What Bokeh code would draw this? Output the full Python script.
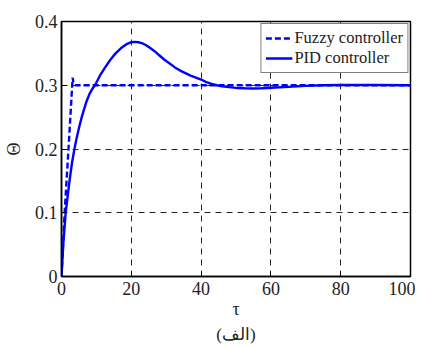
from bokeh.plotting import figure
from bokeh.models import FixedTicker, Range1d, Legend, LegendItem, Title
from bokeh.embed import file_html
from bokeh.resources import INLINE

# ---- data ----
fuzzy_t = [0, 0.9, 2.0, 2.8, 3.2, 3.5, 4.0, 100]
fuzzy_y = [0, 0.10, 0.20, 0.275, 0.312, 0.302, 0.300, 0.300]

pid_t = [0, 0.5, 1.2, 2.3, 3.0, 3.7, 4.3, 5.0, 5.8, 6.5, 7.2, 8.0, 8.8, 9.6, 11,
         12.5, 14, 15.5, 17, 18.5, 20, 21, 22, 23, 24, 25, 26, 27, 28, 29.5,
         31, 32.5, 34, 35.5, 37, 38.5, 40, 41.5, 43, 44.5, 46, 48, 50, 52.5,
         55, 57.5, 60, 65, 70, 75, 80, 90, 100]
pid_y = [0, 0.05, 0.10, 0.15, 0.178, 0.200, 0.216, 0.233, 0.250, 0.263, 0.275,
         0.286, 0.294, 0.300, 0.315, 0.328, 0.340, 0.350, 0.358, 0.364, 0.3675,
         0.368, 0.3675, 0.366, 0.3635, 0.360, 0.356, 0.352, 0.347, 0.340,
         0.334, 0.328, 0.323, 0.319, 0.315, 0.312, 0.309, 0.305, 0.302, 0.300,
         0.2985, 0.297, 0.2958, 0.2952, 0.295, 0.2953, 0.296, 0.2975, 0.299,
         0.300, 0.3005, 0.3005, 0.300]

x_ticks = [0, 20, 40, 60, 80, 100]
y_ticks = [0, 0.1, 0.2, 0.3, 0.4]
y_tick_labels = ["0", "0.1", "0.2", "0.3", "0.4"]

series_names = ["Fuzzy controller", "PID controller"]
x_label = "τ"
y_label = "Θ"
caption = "(الف)"

FONT = "Liberation Serif"
BLUE = "#0000ff"

p = figure(width=415, height=346, output_backend="svg", toolbar_location=None,
           x_range=Range1d(0, 100), y_range=Range1d(0, 0.4),
           min_border_left=61, min_border_right=5, min_border_top=21,
           min_border_bottom=70)
p.background_fill_color = "white"
p.border_fill_color = "white"
p.outline_line_color = "black"
p.outline_line_width = 1.5

r1 = p.line(fuzzy_t, fuzzy_y, line_color=BLUE, line_width=2.4, line_dash="6 3")
r2 = p.line(pid_t, pid_y, line_color=BLUE, line_width=2.4, line_join="round")

# axes
for ax in (p.xaxis[0], p.yaxis[0]):
    ax.major_tick_in = 5
    ax.major_tick_out = 0
    ax.minor_tick_in = 0
    ax.minor_tick_out = 0
    ax.axis_line_color = "black"
    ax.axis_line_width = 1.5
    ax.major_tick_line_color = "black"
    ax.major_label_text_font = FONT
    ax.major_label_text_font_size = "18px"
    ax.major_label_text_color = "#222222"
    ax.axis_label_text_font = FONT
    ax.axis_label_text_font_size = "18px"
    ax.axis_label_text_font_style = "normal"
    ax.axis_label_text_color = "#222222"

p.xaxis[0].ticker = FixedTicker(ticks=x_ticks)
p.yaxis[0].ticker = FixedTicker(ticks=y_ticks)
p.yaxis[0].major_label_overrides = {t: s for t, s in zip(y_ticks, y_tick_labels)}
p.xaxis[0].major_label_standoff = 5
p.yaxis[0].major_label_standoff = 4
p.xaxis[0].axis_label = x_label
p.xaxis[0].axis_label_standoff = 1
p.yaxis[0].axis_label = y_label
p.yaxis[0].axis_label_standoff = 8

# grid
for g in (p.xgrid[0], p.ygrid[0]):
    g.grid_line_color = "black"
    g.grid_line_alpha = 0.85
    g.grid_line_dash = "6 5"
    g.grid_line_width = 1
p.xgrid[0].ticker = FixedTicker(ticks=x_ticks)
p.ygrid[0].ticker = FixedTicker(ticks=y_ticks)

# legend
legend = Legend(items=[LegendItem(label=series_names[0], renderers=[r1]),
                       LegendItem(label=series_names[1], renderers=[r2])],
                location="top_right")
legend.label_text_font = FONT
legend.label_text_font_size = "16.5px"
legend.label_text_color = "#222222"
legend.border_line_color = "black"
legend.border_line_width = 1
legend.margin = 2
legend.padding = 4
legend.spacing = 0
legend.glyph_width = 27
legend.glyph_height = 20
legend.label_height = 20
legend.label_standoff = 2
p.add_layout(legend)

# caption below
cap = Title(text=caption, align="center", text_font=FONT, text_font_size="17px",
            text_font_style="normal", text_color="#222222", standoff=3)
p.add_layout(cap, "below")

open("out.html", "w").write(file_html(p, INLINE))
